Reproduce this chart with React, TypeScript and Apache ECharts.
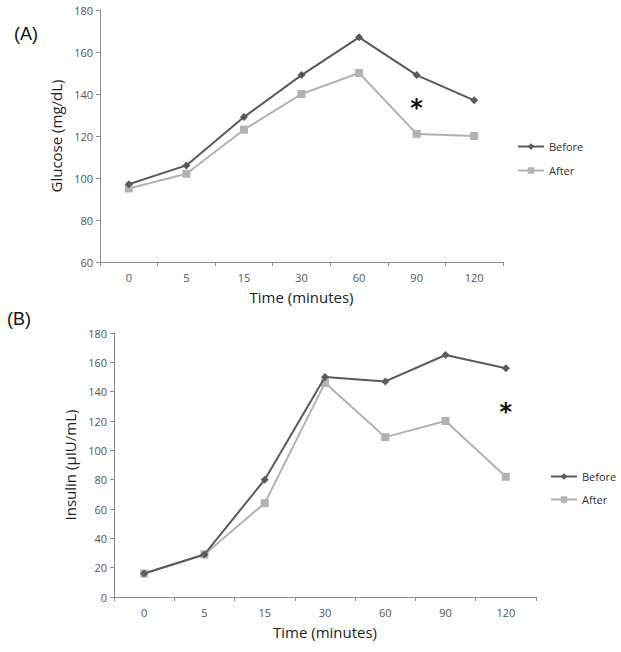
import React, { useEffect, useRef } from "react";
import * as echarts from "echarts";

const timePoints = ["0", "5", "15", "30", "60", "90", "120"];
const glucoseBefore = [97, 106, 129, 149, 167, 149, 137];
const glucoseAfter = [95, 102, 123, 140, 150, 121, 120];
const insulinBefore = [16, 29, 80, 150, 147, 165, 156];
const insulinAfter = [16, 29, 64, 146, 109, 120, 82];
const glucoseStar = { time: "90", value: 136 };
const insulinStar = { time: "120", value: 130 };

const DARK = "#5a5a5a";
const LIGHT = "#b2b2b2";
const AXIS = "#8c8c8c";
const FONT = "'Open Sans', 'DejaVu Sans', sans-serif";

function yAxis(gridIndex: number, min: number, name: string) {
  return {
    type: "value",
    gridIndex,
    min,
    max: 180,
    interval: 20,
    name,
    nameLocation: "middle",
    nameGap: 33,
    nameTextStyle: { fontSize: 15, color: "#222", fontFamily: FONT },
    splitLine: { show: false },
    axisLine: { show: true, lineStyle: { color: AXIS, width: 1 } },
    axisTick: { show: true, length: 4, lineStyle: { color: AXIS } },
    axisLabel: { fontSize: 11, color: "#555", margin: 7, fontFamily: FONT },
  };
}

function xAxis(gridIndex: number) {
  return {
    type: "category",
    gridIndex,
    data: timePoints,
    boundaryGap: true,
    name: "Time (minutes)",
    nameLocation: "middle",
    nameGap: 27,
    nameTextStyle: { fontSize: 15, color: "#222", fontFamily: FONT },
    axisLine: { show: true, lineStyle: { color: AXIS, width: 1 } },
    axisTick: { show: true, length: 4, alignWithLabel: false, lineStyle: { color: AXIS } },
    axisLabel: { fontSize: 11, color: "#555", margin: 10, fontFamily: FONT },
    splitLine: { show: false },
  };
}

function series(
  name: string,
  data: number[],
  idx: number,
  before: boolean,
  star?: { time: string; value: number }
) {
  const s: any = {
    name,
    type: "line",
    xAxisIndex: idx,
    yAxisIndex: idx,
    data,
    symbol: before ? "diamond" : "rect",
    symbolSize: before ? 8 : 8,
    lineStyle: { color: before ? DARK : LIGHT, width: 2 },
    itemStyle: { color: before ? DARK : LIGHT },
    z: before ? 3 : 2,
  };
  if (star) {
    s.markPoint = {
      symbol: "circle",
      symbolSize: 1,
      itemStyle: { color: "rgba(0,0,0,0)" },
      label: {
        show: true,
        position: "inside",
        formatter: "*",
        fontSize: 24,
        fontWeight: "bold",
        color: "#111",
        fontFamily: "'DejaVu Sans', sans-serif",
        offset: [0, 6],
      },
      data: [{ coord: [star.time, star.value] }],
    };
  }
  return s;
}

export default function App() {
  const ref = useRef<HTMLDivElement>(null);
  useEffect(() => {
    if (!ref.current) return;
    const chart = echarts.init(ref.current, undefined, { renderer: "svg" });
    const legendText = { fontSize: 11, color: "#333" };
    chart.setOption({
      animation: false,
      backgroundColor: "#fff",
      textStyle: { fontFamily: FONT },
      grid: [
        { left: 100, top: 10, width: 403, height: 252 },
        { left: 114, top: 333, width: 422, height: 264 },
      ],
      xAxis: [xAxis(0), xAxis(1)],
      yAxis: [yAxis(0, 60, "Glucose (mg/dL)"), yAxis(1, 0, "Insulin (µIU/mL)")],
      legend: [
        {
          orient: "vertical",
          left: 517,
          top: 141,
          padding: 0,
          itemWidth: 26,
          itemHeight: 8,
          itemGap: 13,
          textStyle: legendText,
          data: ["Before", "After"],
        },
        {
          orient: "vertical",
          left: 550,
          top: 471,
          padding: 0,
          itemWidth: 26,
          itemHeight: 8,
          itemGap: 12,
          textStyle: legendText,
          data: ["Before", "After"],
        },
      ],
      graphic: [
        {
          type: "text",
          left: 14,
          top: 25,
          style: { text: "(A)", fontSize: 18, fill: "#111", fontFamily: "'Liberation Sans', Arial, sans-serif" },
        },
        {
          type: "text",
          left: 7,
          top: 310,
          style: { text: "(B)", fontSize: 18, fill: "#111", fontFamily: "'Liberation Sans', Arial, sans-serif" },
        },
      ],
      series: [
        series("Before", glucoseBefore, 0, true),
        series("After", glucoseAfter, 0, false, glucoseStar),
        series("Before", insulinBefore, 1, true),
        series("After", insulinAfter, 1, false, insulinStar),
      ],
    });
    return () => chart.dispose();
  }, []);
  return (
    <div
      ref={ref}
      style={{ position: "absolute", left: 0, top: 0, width: 621, height: 652, background: "#fff" }}
    />
  );
}
